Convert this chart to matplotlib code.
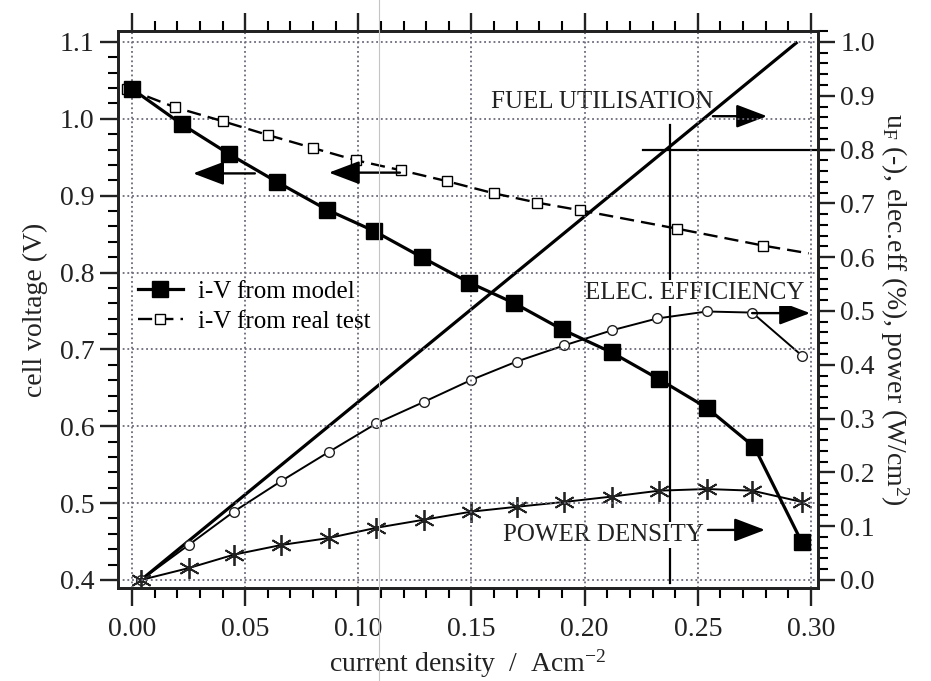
import matplotlib.pyplot as plt
from matplotlib.ticker import MultipleLocator, FormatStrFormatter
from matplotlib.lines import Line2D

plt.rcParams['font.family'] = ['Liberation Serif', 'DejaVu Serif']
plt.rcParams['mathtext.fontset'] = 'custom'
plt.rcParams['mathtext.rm'] = 'Liberation Serif'
plt.rcParams['mathtext.it'] = 'Liberation Serif:italic'

# i-V from model (left axis)
j_model = [0.0, 0.022, 0.043, 0.064, 0.086, 0.107, 0.128, 0.149, 0.169, 0.190,
           0.212, 0.233, 0.254, 0.275, 0.296]
v_model = [1.039, 0.993, 0.954, 0.918, 0.882, 0.854, 0.820, 0.787, 0.760, 0.726,
           0.696, 0.661, 0.624, 0.573, 0.449]

# i-V from real test (left axis), last point = end of dashed line
j_test = [-0.002, 0.019, 0.040, 0.060, 0.080, 0.099, 0.119, 0.139, 0.160, 0.179,
          0.198, 0.241, 0.279, 0.299]
v_test = [1.039, 1.015, 0.997, 0.979, 0.962, 0.946, 0.933, 0.919, 0.903, 0.891,
          0.881, 0.857, 0.835, 0.825]

# right axis curves
j_fuel = [0.004, 0.294]
u_fuel = [0.0, 1.0]

j_eff = [0.004, 0.025, 0.045, 0.066, 0.087, 0.108, 0.129, 0.150, 0.170, 0.191,
         0.212, 0.232, 0.254, 0.274, 0.296]
eff = [0.0, 0.065, 0.127, 0.184, 0.238, 0.291, 0.331, 0.372, 0.406, 0.436,
       0.464, 0.486, 0.499, 0.497, 0.417]

j_pow = [0.004, 0.025, 0.045, 0.066, 0.087, 0.108, 0.129, 0.150, 0.170, 0.191,
         0.212, 0.233, 0.254, 0.274, 0.296]
power = [0.0, 0.022, 0.047, 0.065, 0.078, 0.097, 0.112, 0.127, 0.136, 0.145,
         0.155, 0.166, 0.169, 0.166, 0.145]

x_ticks = [0.00, 0.05, 0.10, 0.15, 0.20, 0.25, 0.30]

fig = plt.figure(figsize=(9.31, 6.81), dpi=100)
ax = fig.add_axes([0.1267, 0.1366, 0.7519, 0.8179])
ax2 = ax.twinx()

ax.set_xlim(-0.0062, 0.3031)
ax.set_ylim(0.3896, 1.1143)
ax2.set_ylim(-0.0149, 1.0204)

gridc = '#6a6a7a'
ax.grid(True, which='major', color=gridc, linestyle=(0, (1, 1.6)), linewidth=1.3)
ax.set_axisbelow(True)

# curves on right axis
ax2.plot(j_fuel, u_fuel, color='black', lw=2.3, solid_capstyle='butt')
ax2.plot(j_eff, eff, color='black', lw=1.4, marker='o', ms=7,
         mfc='white', mec='#222222', mew=1.0)
ax2.plot(j_pow, power, color='black', lw=1.4, marker=(6, 2, 0), ms=15,
         mec='#222222', mew=1.3)

# i-V curves on left axis
ax.set_zorder(ax2.get_zorder() + 1)
ax.patch.set_visible(False)
ax.plot(j_test, v_test, color='black', lw=1.7, dashes=(6, 3),
        marker='s', ms=7.5, mfc='white', mec='black', mew=1.0,
        markevery=list(range(len(j_test) - 1)), label='i-V from real test')
ax.plot(j_model, v_model, color='black', lw=2.3, marker='s', ms=12,
        mfc='black', mec='black', label='i-V from model')

# crosshair at fuel utilisation 0.8
ax2.plot([0.2375, 0.2375], [0.846, -0.006], color='black', lw=1.6, clip_on=False)
ax2.plot([0.226, 0.3084], [0.8, 0.8], color='black', lw=1.6, clip_on=False)

# arrows
arr = dict(arrowstyle='-|>,head_length=0.95,head_width=0.36', color='black',
           lw=1.7, mutation_scale=20, shrinkA=0, shrinkB=0)
ax.annotate('', xy=(0.027, 0.929), xytext=(0.0543, 0.929), arrowprops=arr)
ax.annotate('', xy=(0.087, 0.930), xytext=(0.1184, 0.930), arrowprops=arr)
ax2.annotate('', xy=(0.2806, 0.862), xytext=(0.2567, 0.862), arrowprops=arr)
ax2.annotate('', xy=(0.2996, 0.496), xytext=(0.274, 0.496), arrowprops=arr)
ax2.annotate('', xy=(0.2797, 0.093), xytext=(0.2545, 0.093), arrowprops=arr)

box = dict(facecolor='white', edgecolor='none', pad=1.5)
ax2.text(0.2077, 0.888, 'FUEL UTILISATION', fontsize=18, ha='center', va='center',
         color='#222222')
ax2.text(0.2488, 0.533, 'ELEC. EFFICIENCY', fontsize=18, ha='center', va='center',
         color='#222222', bbox=box)
ax2.text(0.2081, 0.0836, 'POWER DENSITY', fontsize=18, ha='center', va='center',
         color='#222222', bbox=box)

leg = ax.legend(handles=ax.get_lines()[::-1], loc='upper left',
                bbox_to_anchor=(0.0286, 0.552), frameon=False, fontsize=18,
                borderpad=0, borderaxespad=0, handlelength=1.8,
                handletextpad=0.6, labelspacing=0.3, numpoints=1)

# ticks
ax.set_xticks(x_ticks)
ax.xaxis.set_major_formatter(FormatStrFormatter('%.2f'))
ax.xaxis.set_minor_locator(MultipleLocator(0.01))
ax.yaxis.set_minor_locator(MultipleLocator(0.02))
ax.yaxis.set_major_formatter(FormatStrFormatter('%.1f'))
ax2.yaxis.set_minor_locator(MultipleLocator(0.02))
ax2.yaxis.set_major_formatter(FormatStrFormatter('%.1f'))
ax.set_yticks([0.4, 0.5, 0.6, 0.7, 0.8, 0.9, 1.0, 1.1])
ax2.set_yticks([0.0, 0.1, 0.2, 0.3, 0.4, 0.5, 0.6, 0.7, 0.8, 0.9, 1.0])

ax.tick_params(axis='both', which='major', direction='out', length=13, width=1.7,
               labelsize=20, colors='#222222', top=True, right=False)
ax.tick_params(axis='both', which='minor', direction='out', length=7, width=1.5,
               top=True, right=False)
ax.tick_params(axis='x', which='major', pad=8)
ax.tick_params(axis='y', which='major', pad=4)
ax2.tick_params(axis='y', which='major', direction='out', length=12, width=1.7,
                labelsize=20, colors='#222222', pad=4)
ax2.tick_params(axis='y', which='minor', direction='out', length=7, width=1.5)

for a in (ax, ax2):
    for s in a.spines.values():
        s.set_linewidth(2.0)
        s.set_color('#222222')

ax.set_xlabel('current density  /  Acm$^{-2}$', fontsize=20, color='#222222', labelpad=4)
ax.set_ylabel('cell voltage (V)', fontsize=20, color='#222222', labelpad=8)
ax2.set_ylabel('u$_{\\rm F}$ (-), elec.eff (%), power (W/cm$^2$)', fontsize=20,
               color='#222222', rotation=270, labelpad=26)

# faint scan crease across the page
fig.add_artist(Line2D([0.407, 0.407], [0, 1], transform=fig.transFigure,
                      color='#c4c4c4', lw=0.8))

fig.savefig('out.png', dpi=100)
